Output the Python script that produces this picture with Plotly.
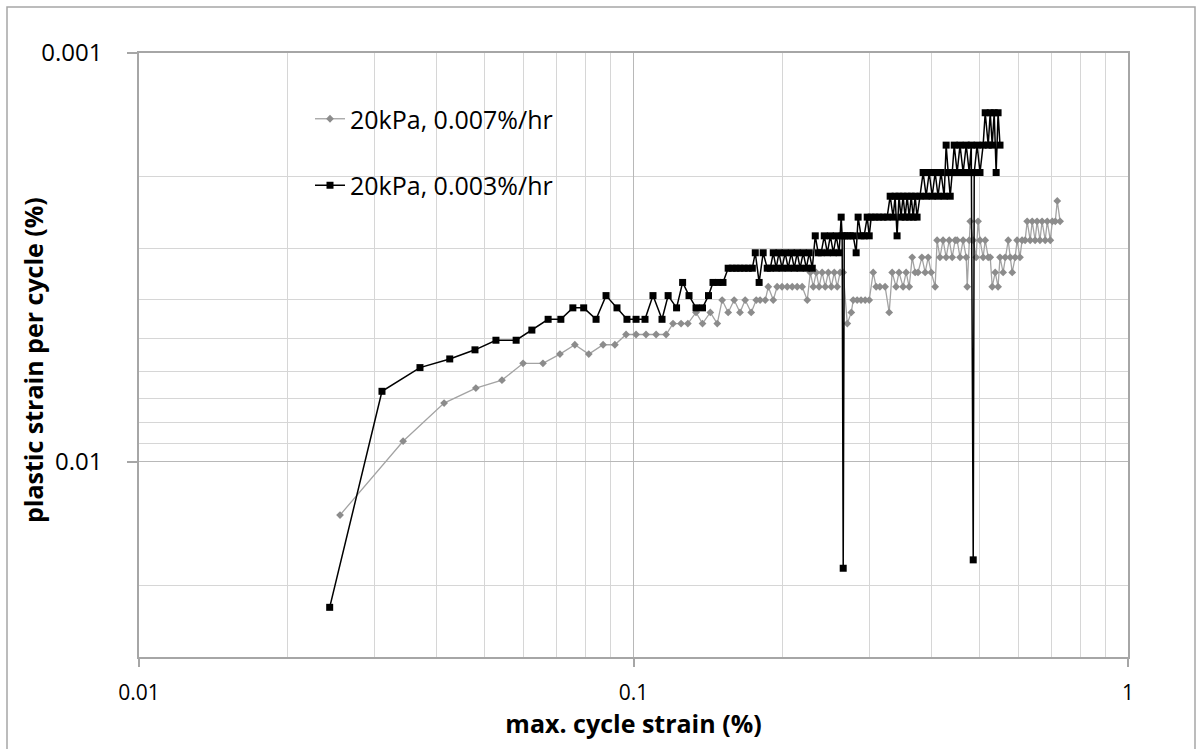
import numpy as np
import plotly.graph_objects as go

# ---------------- data ----------------
gray_name = "20kPa, 0.007%/hr"
black_name = "20kPa, 0.003%/hr"

gray_x = [0.0255, 0.0342, 0.0414, 0.0480, 0.0542, 0.0598, 0.0656, 0.0710, 0.0761, 0.0812,
          0.0868, 0.0917, 0.0966, 0.1012, 0.1060, 0.1111, 0.1164, 0.1202, 0.1248, 0.1288,
          0.1338, 0.1379, 0.1430, 0.1477, 0.1511, 0.1554, 0.1598, 0.1642, 0.1682, 0.1730,
          0.1771, 0.1803, 0.1847, 0.1873, 0.1917, 0.1952, 0.1997, 0.2046, 0.2094, 0.2143,
          0.2193, 0.2246, 0.2278, 0.2310, 0.2342, 0.2373, 0.2407, 0.2442, 0.2477, 0.2512,
          0.2547, 0.2582, 0.2617, 0.2655, 0.2706, 0.2757, 0.2782, 0.2833, 0.2885, 0.2941,
          0.2997, 0.3053, 0.3095, 0.3150, 0.3227, 0.3289, 0.3335, 0.3396, 0.3443, 0.3509,
          0.3559, 0.3610, 0.3661, 0.3712, 0.3762, 0.3830, 0.3889, 0.3944, 0.4000, 0.4074,
          0.4111, 0.4166, 0.4227, 0.4288, 0.4350, 0.4411, 0.4472, 0.4513, 0.4574, 0.4641,
          0.4708, 0.4730, 0.4775, 0.4797, 0.4864, 0.4931, 0.4975, 0.5020, 0.5094, 0.5143,
          0.5216, 0.5265, 0.5314, 0.5388, 0.5461, 0.5510, 0.5591, 0.5645, 0.5725, 0.5779,
          0.5833, 0.5913, 0.5966, 0.6047, 0.6106, 0.6194, 0.6253, 0.6342, 0.6401, 0.6489,
          0.6548, 0.6637, 0.6702, 0.6801, 0.6866, 0.6965, 0.7030, 0.7128, 0.7194, 0.7290]
gray_y = [0.01349, 0.0089, 0.00718, 0.0066, 0.00631, 0.00574, 0.00574, 0.00545, 0.00517, 0.00545,
          0.00517, 0.00517, 0.00488, 0.00488, 0.00488, 0.00488, 0.00488, 0.00459, 0.00459, 0.00459,
          0.00431, 0.00459, 0.00431, 0.00459, 0.00402, 0.00431, 0.00402, 0.00431, 0.00402, 0.00431,
          0.00402, 0.00402, 0.00402, 0.00373, 0.00402, 0.00373, 0.00373, 0.00373, 0.00373, 0.00373,
          0.00373, 0.00402, 0.00344, 0.00373, 0.00344, 0.00373, 0.00344, 0.00373, 0.00344, 0.00373,
          0.00344, 0.00373, 0.00344, 0.00344, 0.00459, 0.00431, 0.00402, 0.00402, 0.00402, 0.00402,
          0.00402, 0.00344, 0.00373, 0.00373, 0.00373, 0.00431, 0.00344, 0.00373, 0.00344, 0.00373,
          0.00344, 0.00373, 0.00316, 0.00344, 0.00344, 0.00316, 0.00344, 0.00316, 0.00344, 0.00373,
          0.00287, 0.00316, 0.00287, 0.00316, 0.00287, 0.00316, 0.00287, 0.00287, 0.00316, 0.00287,
          0.00316, 0.00373, 0.00287, 0.00258, 0.00287, 0.00316, 0.00258, 0.00287, 0.00316, 0.00287,
          0.00316, 0.00316, 0.00373, 0.00344, 0.00373, 0.00316, 0.00344, 0.00316, 0.00287, 0.00316,
          0.00344, 0.00316, 0.00287, 0.00316, 0.00287, 0.00287, 0.00258, 0.00287, 0.00258, 0.00287,
          0.00258, 0.00287, 0.00258, 0.00287, 0.00258, 0.00287, 0.00258, 0.00258, 0.0023, 0.00258]

black_x = [0.0243, 0.0310, 0.0370, 0.0425, 0.0478, 0.0527, 0.0579, 0.0623, 0.0672, 0.0713,
           0.0754, 0.0793, 0.0840, 0.0880, 0.0926, 0.0970, 0.1012, 0.1055, 0.1095, 0.1142,
           0.1175, 0.1222, 0.1257, 0.1295, 0.1338, 0.1379, 0.1418, 0.1448, 0.1482, 0.1517,
           0.1554, 0.1584, 0.1613, 0.1642, 0.1674, 0.1706, 0.1739,
           0.1763, 0.1795, 0.1829, 0.1864, 0.1891, 0.1917, 0.1943, 0.1969, 0.1997, 0.2026,
           0.2055, 0.2085, 0.2114, 0.2143, 0.2172, 0.2204, 0.2236, 0.2267, 0.2299,
           0.2331, 0.2363, 0.2396, 0.2431, 0.2466, 0.2501, 0.2536, 0.2570, 0.2605, 0.2630,
           0.2642, 0.2655, 0.2668, 0.2706, 0.2744, 0.2782, 0.2820, 0.2846, 0.2885, 0.2927,
           0.2969, 0.2997, 0.3025, 0.3080, 0.3136, 0.3196, 0.3258,
           0.3304, 0.3350, 0.3381, 0.3412, 0.3443, 0.3475, 0.3509, 0.3543, 0.3576, 0.3610,
           0.3644, 0.3678, 0.3712, 0.3745,
           0.3796, 0.3852, 0.3907, 0.3963, 0.4018, 0.4074, 0.4129, 0.4186, 0.4248, 0.4288,
           0.4329, 0.4370, 0.4411, 0.4452, 0.4513, 0.4574, 0.4641, 0.4708, 0.4775, 0.4820,
           0.4864, 0.4887, 0.4953, 0.5020, 0.5094, 0.5143, 0.5216, 0.5265, 0.5314, 0.5363,
           0.5412, 0.5461, 0.5510]
black_y = [0.02268, 0.00672, 0.00588, 0.0056, 0.00532, 0.00504, 0.00504, 0.00476, 0.00448, 0.00448,
           0.0042, 0.0042, 0.00448, 0.00392, 0.0042, 0.00448, 0.00448, 0.00448, 0.00392, 0.00448,
           0.00392, 0.0042, 0.00364, 0.00392, 0.0042, 0.0042, 0.00392, 0.00364, 0.00364, 0.00364,
           0.00336, 0.00336, 0.00336, 0.00336, 0.00336, 0.00336, 0.00336,
           0.00308, 0.00364, 0.00308, 0.00336, 0.00336, 0.00308, 0.00336, 0.00308, 0.00336, 0.00308,
           0.00336, 0.00308, 0.00336, 0.00308, 0.00336, 0.00308, 0.00336, 0.00308, 0.00336,
           0.0028, 0.00308, 0.00308, 0.0028, 0.00308, 0.0028, 0.00308, 0.0028, 0.00308, 0.00252,
           0.0028, 0.0182, 0.0028, 0.0028, 0.0028, 0.0028, 0.00308, 0.00252, 0.0028, 0.0028,
           0.00252, 0.0028, 0.00252, 0.00252, 0.00252, 0.00252, 0.00252,
           0.00224, 0.00252, 0.00224, 0.0028, 0.00224, 0.00252, 0.00224, 0.00252, 0.00224, 0.00252,
           0.00224, 0.00252, 0.00224, 0.00252,
           0.00224, 0.00196, 0.00224, 0.00196, 0.00224, 0.00196, 0.00224, 0.00196, 0.00224, 0.00168,
           0.00196, 0.00224, 0.00196, 0.00168, 0.00196, 0.00168, 0.00196, 0.00168, 0.00196, 0.00168,
           0.01736, 0.00196, 0.00168, 0.00196, 0.00168, 0.0014, 0.00168, 0.0014, 0.00168, 0.0014,
           0.00196, 0.0014, 0.00168]

x_tick_vals = [0.01, 0.1, 1]
x_tick_text = ["0.01", "0.1", "1"]
x_minor_vals = [0.02, 0.03, 0.04, 0.05, 0.06, 0.07, 0.08, 0.09,
                0.2, 0.3, 0.4, 0.5, 0.6, 0.7, 0.8, 0.9]
y_tick_vals = [0.001, 0.01]
y_tick_text = ["0.001", "0.01"]
y_minor_vals = [0.002, 0.003, 0.004, 0.005, 0.006, 0.007, 0.008, 0.009, 0.02, 0.03]

x_title = "max. cycle strain (%)"
y_title = "plastic strain per cycle (%)"

# ---------------- figure ----------------
W, H = 1203, 749
ML, MR, MT, MB = 139, 75, 53, 92
PW, PH = W - ML - MR, H - MT - MB

FONT = "Open Sans"
AXIS_GRAY = "#a6a6a6"
GRID_MAJOR = "#b8b8b8"
GRID = "#d6d6d6"

fig = go.Figure()
fig.add_trace(go.Scatter(
    x=gray_x, y=gray_y, name=gray_name, mode="lines+markers",
    line=dict(color="#a3a3a3", width=1.3),
    marker=dict(symbol="diamond", size=6, color="#8c8c8c"),
    legendgroup="g1",
))
fig.add_trace(go.Scatter(
    x=black_x, y=black_y, name=black_name, mode="lines+markers",
    line=dict(color="#000000", width=1.5),
    marker=dict(symbol="square", size=7, color="#000000"),
    legendgroup="g2",
))

fig.update_layout(
    width=W, height=H,
    margin=dict(l=ML, r=MR, t=MT, b=MB, pad=0),
    paper_bgcolor="white", plot_bgcolor="white",
    font=dict(family=FONT, color="#000000"),
    showlegend=True,
    legend=dict(
        x=(310 - ML) / PW, y=1 - (96 - MT) / PH, xanchor="left", yanchor="top",
        bgcolor="rgba(0,0,0,0)", borderwidth=0,
        font=dict(family=FONT, size=25, color="#000000"),
        traceorder="grouped", tracegroupgap=31,
    ),
    xaxis=dict(
        type="log", range=[np.log10(0.01), np.log10(1)],
        tickmode="array", tickvals=x_tick_vals, ticktext=x_tick_text,
        tickfont=dict(family=FONT, size=21, color="#000000"),
        showgrid=True, gridcolor=GRID_MAJOR, gridwidth=1.3,
        minor=dict(tickmode="array", tickvals=x_minor_vals, showgrid=True,
                   gridcolor=GRID, gridwidth=1.3, ticks=""),
        showline=True, linecolor=AXIS_GRAY, linewidth=1.5, mirror=True,
        ticks="outside", ticklen=8, tickcolor=AXIS_GRAY, tickwidth=1.5,
        ticklabelstandoff=8,
        zeroline=False,
        title=dict(text="<b>" + x_title + "</b>",
                   font=dict(family=FONT, size=25, color="#000000"),
                   standoff=4),
    ),
    yaxis=dict(
        type="log", range=[np.log10(0.03), np.log10(0.001)],
        tickmode="array", tickvals=y_tick_vals, ticktext=y_tick_text,
        tickfont=dict(family=FONT, size=24, color="#000000"),
        showgrid=True, gridcolor=GRID_MAJOR, gridwidth=1.3,
        minor=dict(tickmode="array", tickvals=y_minor_vals, showgrid=True,
                   gridcolor=GRID, gridwidth=1.3, ticks=""),
        showline=True, linecolor=AXIS_GRAY, linewidth=1.5, mirror=True,
        ticks="outside", ticklen=10, tickcolor=AXIS_GRAY, tickwidth=1.5,
        ticklabelstandoff=20,
        zeroline=False,
    ),
    annotations=[dict(
        text="<b>" + y_title + "</b>", textangle=-90,
        xref="paper", yref="paper",
        x=(33 - ML) / PW, y=1 - (360 - MT) / PH,
        xanchor="center", yanchor="middle", showarrow=False,
        font=dict(family=FONT, size=25, color="#000000"),
    )],
    shapes=[dict(
        type="rect", xref="paper", yref="paper",
        x0=(7 - ML) / PW, x1=(1195 - ML) / PW,
        y0=1 + (MT - 7) / PH, y1=-(H + 10 - MT - PH) / PH,
        line=dict(color=AXIS_GRAY, width=1.5), fillcolor="rgba(0,0,0,0)", layer="below",
    )],
)

fig.write_html("out.html")
